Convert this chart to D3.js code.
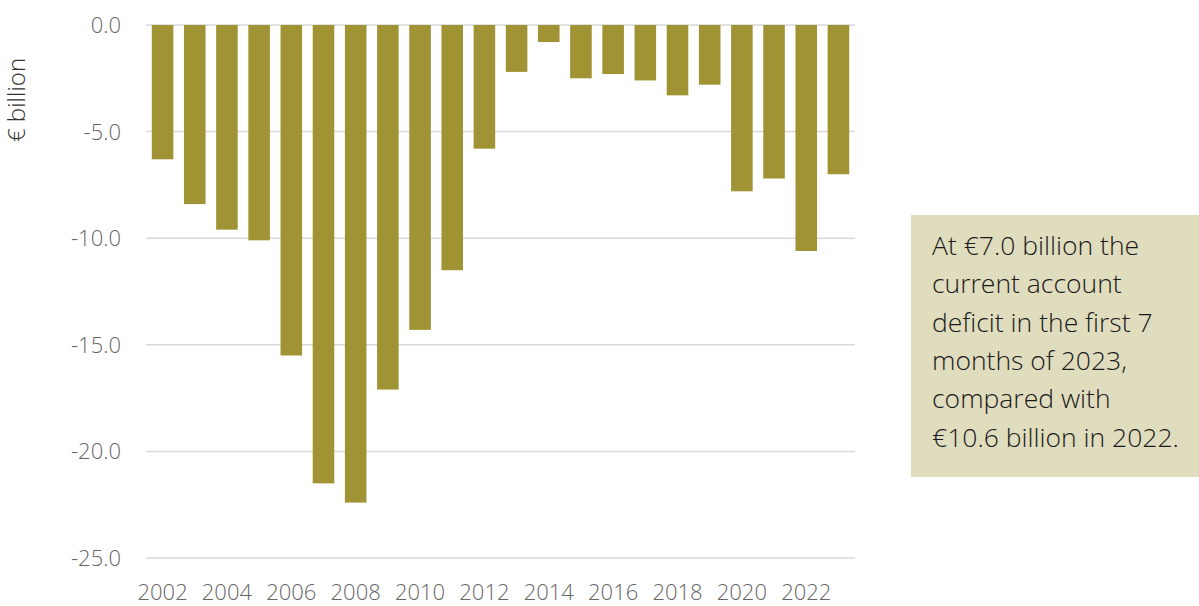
<!DOCTYPE html>
<html><head><meta charset="utf-8">
<script src="https://cdn.jsdelivr.net/npm/d3@7"></script>
<style>
body{margin:0;background:#fff;}
text{font-family:"Open Sans",sans-serif;}
</style></head>
<body><svg id="c" width="1199" height="606"></svg>
<script>
const years = ["2002","2003","2004","2005","2006","2007","2008","2009","2010","2011","2012","2013","2014","2015","2016","2017","2018","2019","2020","2021","2022","2023"];
const values = [-6.3,-8.4,-9.6,-10.1,-15.5,-21.5,-22.4,-17.1,-14.3,-11.5,-5.8,-2.2,-0.8,-2.5,-2.3,-2.6,-3.3,-2.8,-7.8,-7.2,-10.6,-7.0];
const yTicks = [0,-5,-10,-15,-20,-25];
const xTickLabels = ["2002","2004","2006","2008","2010","2012","2014","2016","2018","2020","2022"];
const yTitle = "€ billion";
const noteLines = ["At €7.0 billion the","current account","deficit in the first 7","months of 2023,","compared with","€10.6 billion in 2022."];

(function(){
const svg = d3.select("#c");
const mLeft = 146, mRight = 855, mTop = 25, mBottom = 558;
const x = d3.scaleBand().domain(years).range([mLeft, mRight]).paddingInner(0.33).paddingOuter(0.18);
const y = d3.scaleLinear().domain([-25, 0]).range([mBottom, mTop]);

svg.append("g").selectAll("line").data(yTicks).join("line")
  .attr("x1", mLeft).attr("x2", mRight)
  .attr("y1", d => y(d)).attr("y2", d => y(d))
  .attr("stroke", "#d9d9d9").attr("stroke-width", 1.5);

svg.append("g").selectAll("text").data(yTicks).join("text")
  .attr("x", 121).attr("y", d => y(d)).attr("dy", "0.36em")
  .attr("text-anchor", "end").attr("font-size", 22).attr("font-weight", 300).attr("fill", "#666")
  .text(d => d3.format(".1f")(d).replace("−","-"));

svg.append("g").selectAll("rect").data(values).join("rect")
  .attr("x", (d,i) => x(years[i])).attr("width", x.bandwidth())
  .attr("y", y(0)).attr("height", d => y(d) - y(0))
  .attr("fill", "#a09334");

svg.append("g").selectAll("text").data(xTickLabels).join("text")
  .attr("x", d => x(d) + x.bandwidth()/2).attr("y", 600)
  .attr("text-anchor", "middle").attr("font-size", 22).attr("font-weight", 300).attr("fill", "#666")
  .text(d => d);

svg.append("text").attr("transform", "translate(25,100) rotate(-90)")
  .attr("text-anchor", "middle").attr("font-size", 24).attr("font-weight", 300).attr("fill", "#333")
  .text(yTitle);

svg.append("rect").attr("x", 911).attr("y", 215).attr("width", 288).attr("height", 262).attr("fill", "#e0dcbe");
svg.append("g").selectAll("text").data(noteLines).join("text")
  .attr("x", 932).attr("y", (d,i) => 255 + i*38.3)
  .attr("font-size", 26.5).attr("font-weight", 300).attr("fill", "#1a1a1a")
  .text(d => d);
})();
</script></body></html>
